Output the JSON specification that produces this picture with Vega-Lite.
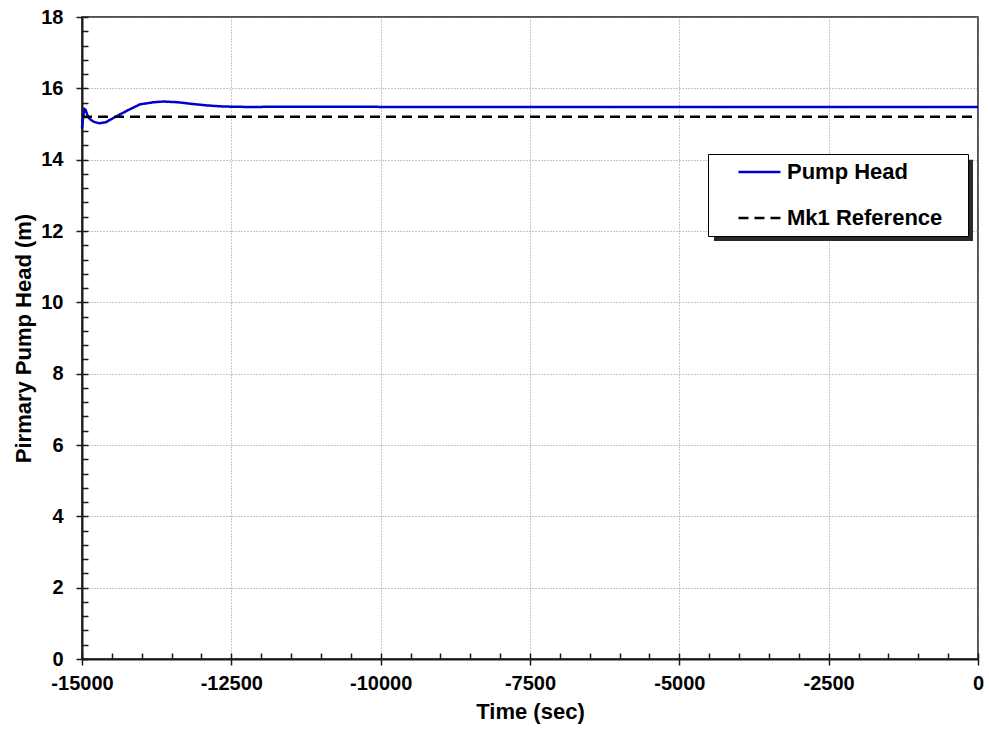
{
  "$schema": "https://vega.github.io/schema/vega-lite/v6.json",
  "width": 896,
  "height": 642,
  "autosize": {"type": "none"},
  "padding": {"left": 82, "top": 17, "right": 11, "bottom": 73},
  "background": "white",
  "config": {
    "view": {"stroke": "#1a1a1a", "strokeWidth": 1.5},
    "font": "Liberation Sans",
    "axis": {
      "labelFont": "Liberation Sans",
      "labelFontWeight": "bold",
      "labelFontSize": 20,
      "labelColor": "#000000",
      "titleFont": "Liberation Sans",
      "titleFontWeight": "bold",
      "titleFontSize": 22,
      "titleColor": "#000000",
      "domainColor": "#1a1a1a",
      "domainWidth": 2,
      "tickColor": "#1a1a1a",
      "tickWidth": 1.5,
      "gridColor": "#8c8c8c",
      "gridDash": [1, 2],
      "gridWidth": 1
    }
  },
  "datasets": {
    "head": [
      {"time": -15000, "value": 14.88, "series": "Pump Head"},
      {"time": -14985, "value": 15.15, "series": "Pump Head"},
      {"time": -14960, "value": 15.42, "series": "Pump Head"},
      {"time": -14940, "value": 15.4, "series": "Pump Head"},
      {"time": -14910, "value": 15.25, "series": "Pump Head"},
      {"time": -14870, "value": 15.14, "series": "Pump Head"},
      {"time": -14800, "value": 15.06, "series": "Pump Head"},
      {"time": -14710, "value": 15.02, "series": "Pump Head"},
      {"time": -14600, "value": 15.05, "series": "Pump Head"},
      {"time": -14450, "value": 15.19, "series": "Pump Head"},
      {"time": -14250, "value": 15.37, "series": "Pump Head"},
      {"time": -14030, "value": 15.55, "series": "Pump Head"},
      {"time": -13800, "value": 15.61, "series": "Pump Head"},
      {"time": -13640, "value": 15.63, "series": "Pump Head"},
      {"time": -13400, "value": 15.61, "series": "Pump Head"},
      {"time": -13140, "value": 15.56, "series": "Pump Head"},
      {"time": -12900, "value": 15.52, "series": "Pump Head"},
      {"time": -12640, "value": 15.49, "series": "Pump Head"},
      {"time": -12300, "value": 15.48, "series": "Pump Head"},
      {"time": -12000, "value": 15.48, "series": "Pump Head"},
      {"time": -11500, "value": 15.485, "series": "Pump Head"},
      {"time": -10000, "value": 15.48, "series": "Pump Head"},
      {"time": -5000, "value": 15.48, "series": "Pump Head"},
      {"time": 0, "value": 15.48, "series": "Pump Head"},
      {"time": -15000, "value": 15.2, "series": "Mk1 Reference"},
      {"time": 0, "value": 15.2, "series": "Mk1 Reference"}
    ]
  },
  "layer": [
    {
      "description": "drop shadow behind the legend box, plus inward minor ticks",
      "data": {"values": [{}]},
      "mark": {"type": "rect", "color": "#2a2a2a"},
      "encoding": {
        "x": {
          "datum": -4420,
          "type": "quantitative",
          "scale": {"domain": [-15000, 0], "nice": false, "zero": false},
          "axis": {
            "orient": "bottom",
            "values": [-15000, -14500, -14000, -13500, -13000, -12500, -12000, -11500, -11000, -10500, -10000, -9500, -9000, -8500, -8000, -7500, -7000, -6500, -6000, -5500, -5000, -4500, -4000, -3500, -3000, -2500, -2000, -1500, -1000, -500, 0],
            "tickSize": -6,
            "labels": false,
            "domain": false,
            "grid": false,
            "title": null
          }
        },
        "x2": {"datum": -84},
        "y": {
          "datum": 14.0,
          "type": "quantitative",
          "scale": {"domain": [0, 18], "nice": false},
          "axis": {
            "orient": "left",
            "values": [0, 0.4, 0.8, 1.2, 1.6, 2, 2.4, 2.8, 3.2, 3.6, 4, 4.4, 4.8, 5.2, 5.6, 6, 6.4, 6.8, 7.2, 7.6, 8, 8.4, 8.8, 9.2, 9.6, 10, 10.4, 10.8, 11.2, 11.6, 12, 12.4, 12.8, 13.2, 13.6, 14, 14.4, 14.8, 15.2, 15.6, 16, 16.4, 16.8, 17.2, 17.6, 18],
            "tickSize": -6,
            "labels": false,
            "domain": false,
            "grid": false,
            "title": null
          }
        },
        "y2": {"datum": 11.72}
      }
    },
    {
      "data": {"name": "head"},
      "mark": {"type": "line", "strokeWidth": 2.5},
      "encoding": {
        "x": {
          "field": "time",
          "type": "quantitative",
          "axis": {
            "orient": "bottom",
            "values": [-15000, -12500, -10000, -7500, -5000, -2500, 0],
            "labelExpr": "datum.value + ''",
            "tickSize": 6,
            "labelPadding": 8,
            "labelFlush": false,
            "grid": true,
            "title": "Time (sec)",
            "titlePadding": 8
          }
        },
        "y": {
          "field": "value",
          "type": "quantitative",
          "axis": {
            "orient": "left",
            "values": [0, 2, 4, 6, 8, 10, 12, 14, 16, 18],
            "labelExpr": "datum.value + ''",
            "tickSize": 6,
            "labelPadding": 13,
            "grid": true,
            "title": "Pirmary Pump Head (m)",
            "titlePadding": 5
          }
        },
        "color": {
          "field": "series",
          "type": "nominal",
          "scale": {"domain": ["Pump Head", "Mk1 Reference"], "range": ["#0000cc", "#000000"]},
          "legend": {
            "title": " ",
            "titleOrient": "right",
            "titlePadding": 19,
            "orient": "none",
            "legendX": 626,
            "legendY": 137,
            "fillColor": "white",
            "strokeColor": "#000000",
            "padding": 7,
            "symbolType": "stroke",
            "symbolSize": 1764,
            "symbolStrokeWidth": 2.5,
            "symbolOffset": 22,
            "clipHeight": 22,
            "labelOffset": 5,
            "labelFont": "Liberation Sans",
            "labelFontWeight": "bold",
            "labelFontSize": 22,
            "labelColor": "#000000",
            "rowPadding": 24
          }
        },
        "strokeDash": {
          "field": "series",
          "type": "nominal",
          "scale": {"domain": ["Pump Head", "Mk1 Reference"], "range": [[1, 0], [10, 6]]},
          "legend": {
            "title": " ",
            "titleOrient": "right",
            "titlePadding": 19,
            "orient": "none",
            "legendX": 626,
            "legendY": 137,
            "fillColor": "white",
            "strokeColor": "#000000",
            "padding": 7,
            "symbolType": "stroke",
            "symbolSize": 1764,
            "symbolStrokeWidth": 2.5,
            "symbolOffset": 22,
            "clipHeight": 22,
            "labelOffset": 5,
            "labelFont": "Liberation Sans",
            "labelFontWeight": "bold",
            "labelFontSize": 22,
            "labelColor": "#000000",
            "rowPadding": 24
          }
        }
      }
    }
  ],
  "resolve": {"axis": {"x": "independent", "y": "independent"}}
}
